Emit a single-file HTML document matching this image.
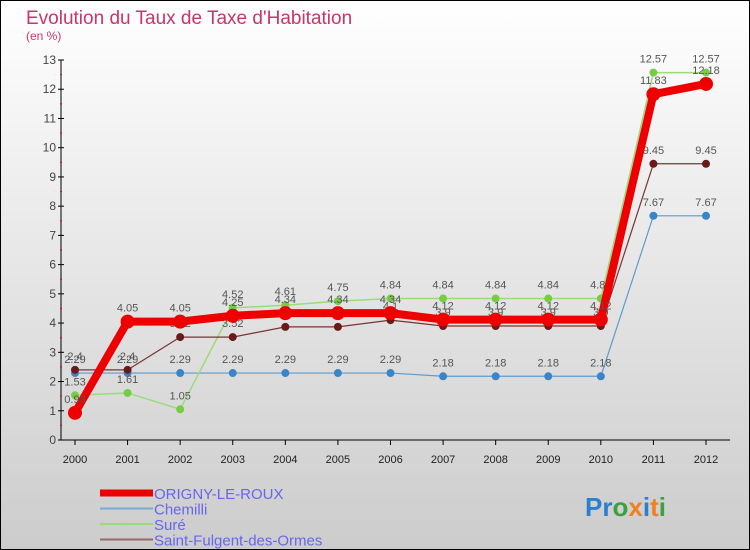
<!DOCTYPE html>
<html><head><meta charset="utf-8"><style>
html,body{margin:0;padding:0}
body{width:750px;height:550px;overflow:hidden;font-family:"Liberation Sans",sans-serif}
svg{display:block}
</style></head><body>
<svg id="chart" width="750" height="550" viewBox="0 0 750 550" xmlns="http://www.w3.org/2000/svg">
<defs><linearGradient id="bg" x1="0" y1="0" x2="0" y2="1"><stop offset="0" stop-color="#ffffff"/><stop offset="1" stop-color="#cccccc"/></linearGradient></defs>
<rect x="0.5" y="0.5" width="749" height="549" fill="url(#bg)" stroke="#000"/>
<text x="26" y="24" font-size="19" fill="#c8356a">Evolution du Taux de Taxe d'Habitation</text>
<text x="26" y="40" font-size="12" fill="#c8356a">(en %)</text>
<g id="axes"></g>
<g id="series"></g>
<g id="legend"></g>
<text x="585" y="516" font-size="26" font-weight="bold" fill="#2a7fd0">P<tspan fill="#2a7fd0">r</tspan><tspan fill="#3aa040">o</tspan><tspan fill="#f08020">x</tspan><tspan fill="#2a7fd0">i</tspan><tspan fill="#f08020">t</tspan><tspan fill="#3aa040">i</tspan></text>
</svg>
<script>
const years = [2000,2001,2002,2003,2004,2005,2006,2007,2008,2009,2010,2011,2012];
const yTicks = [0,1,2,3,4,5,6,7,8,9,10,11,12,13];
const origny = [0.93,4.05,4.05,4.25,4.34,4.34,4.34,4.12,4.12,4.12,4.12,11.83,12.18];
const chemilli = [2.29,2.29,2.29,2.29,2.29,2.29,2.29,2.18,2.18,2.18,2.18,7.67,7.67];
const sure = [1.53,1.61,1.05,4.52,4.61,4.75,4.84,4.84,4.84,4.84,4.84,12.57,12.57];
const fulgent = [2.4,2.4,3.52,3.52,3.87,3.87,4.1,3.9,3.9,3.9,3.9,9.45,9.45];
const seriesNames = ["ORIGNY-LE-ROUX","Chemilli","Suré","Saint-Fulgent-des-Ormes"];

const NS="http://www.w3.org/2000/svg";
const xs=i=>75+i*(706-75)/(years.length-1);
const ys=v=>440-v*(440-60)/13;
function mk(tag,attrs,parent){const e=document.createElementNS(NS,tag);for(const k in attrs)e.setAttribute(k,attrs[k]);parent.appendChild(e);return e;}
const axes=document.getElementById('axes'),sg=document.getElementById('series'),lg=document.getElementById('legend');
let e;
e=mk('line',{x1:61,y1:60,x2:61,y2:440,stroke:'#000'},axes);


e=mk('line',{x1:61,y1:440,x2:730,y2:440,stroke:'#000'},axes);


yTicks.forEach(v=>{
  mk('line',{x1:58,y1:ys(v),x2:64,y2:ys(v),stroke:'#000'},axes);
  if(v<13) mk('line',{x1:60,y1:ys(v+0.5),x2:62,y2:ys(v+0.5),stroke:'#e00'},axes);
  e=mk('text',{x:56,y:ys(v)+4,'font-size':12,'text-anchor':'end',fill:'#444'},axes);
  e.textContent=v;
  
  
});
years.forEach((y,i)=>{
  mk('line',{x1:xs(i),y1:440,x2:xs(i),y2:445,stroke:'#000'},axes);
  e=mk('text',{x:xs(i),y:463,'font-size':11,'text-anchor':'middle',fill:'#222'},axes);
  e.textContent=y;
  
  
});
const defs=[
 {d:chemilli,c:'#5b9bd0',w:1.2,r:4,dc:'#3a85c8',n:'chemilli'},
 {d:sure,c:'#99dd77',w:1.5,r:4,dc:'#77cc44',n:'sure'},
 {d:fulgent,c:'#7a3333',w:1.2,r:4,dc:'#6a1a1a',n:'saint-fulgent'},
 {d:origny,c:'#ee0000',w:8,r:7,dc:'#ee0000',n:'origny-le-roux'}
];
defs.forEach(s=>{
  const g=mk('g',{},sg);
  
  
  e=mk('polyline',{points:s.d.map((v,i)=>xs(i)+','+ys(v)).join(' '),fill:'none',stroke:s.c,'stroke-width':s.w,'stroke-linejoin':'round'},g);
  
  
  s.d.forEach((v,i)=>{
    e=mk('circle',{cx:xs(i),cy:ys(v),r:s.r,fill:s.dc},g);
    
    
    e=mk('text',{x:xs(i),y:ys(v)-10,'font-size':11,'text-anchor':'middle',fill:'#555'},g);
    e.textContent=v;
    
    
  });
});
const lc=['#ee0000','#7aaad0','#99dd77','#996666'],lw=[7,2,2,2];
seriesNames.forEach((n,i)=>{
  const y=493+i*15.5;
  e=mk('line',{x1:100,y1:y,x2:153,y2:y,stroke:lc[i],'stroke-width':lw[i]},lg);
  
  
  e=mk('text',{x:154,y:y+6,'font-size':15,fill:'#6666ee'},lg);
  e.textContent=n;
  
  
});
</script>
</body></html>
